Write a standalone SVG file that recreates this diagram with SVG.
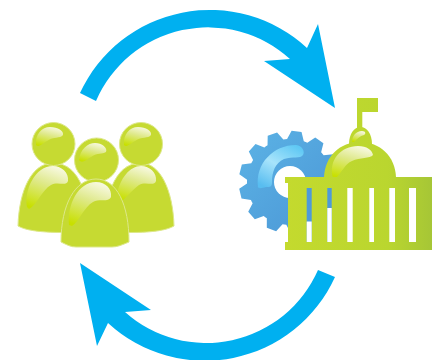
<svg xmlns="http://www.w3.org/2000/svg" width="438" height="360" viewBox="0 0 438 360">
<defs>
<linearGradient id="gloss" x1="0.6" y1="0" x2="0.25" y2="1"><stop offset="0" stop-color="#f6f8dc"/><stop offset="0.4" stop-color="#dfe98c"/><stop offset="1" stop-color="#c8e000"/></linearGradient>
<linearGradient id="gear" x1="0" y1="0" x2="1" y2="1"><stop offset="0" stop-color="#5cb4e6"/><stop offset="1" stop-color="#4a94d4"/></linearGradient>
<linearGradient id="gearGloss" x1="0.8" y1="0" x2="0.2" y2="1"><stop offset="0" stop-color="#5fc8f4"/><stop offset="0.5" stop-color="#a8e4fb"/><stop offset="1" stop-color="#58bdf0"/></linearGradient>
<linearGradient id="cap" x1="285" y1="0" x2="432" y2="0" gradientUnits="userSpaceOnUse"><stop offset="0" stop-color="#c4da2e"/><stop offset="0.7" stop-color="#bad62f"/><stop offset="1" stop-color="#a6c636"/></linearGradient>
<clipPath id="gearClip">
<circle cx="290" cy="182" r="43"/>
<polygon points="281.500,140 285,131 295,131 298.500,140" transform="rotate(7.4 290 182)"/>
<polygon points="281.500,140 285,131 295,131 298.500,140" transform="rotate(35.1 290 182)"/>
<polygon points="281.500,140 285,131 295,131 298.500,140" transform="rotate(62.8 290 182)"/>
<polygon points="281.500,140 285,131 295,131 298.500,140" transform="rotate(90.5 290 182)"/>
<polygon points="281.500,140 285,131 295,131 298.500,140" transform="rotate(118.2 290 182)"/>
<polygon points="281.500,140 285,131 295,131 298.500,140" transform="rotate(145.9 290 182)"/>
<polygon points="281.500,140 285,131 295,131 298.500,140" transform="rotate(173.6 290 182)"/>
<polygon points="281.500,140 285,131 295,131 298.500,140" transform="rotate(201.3 290 182)"/>
<polygon points="281.500,140 285,131 295,131 298.500,140" transform="rotate(229 290 182)"/>
<polygon points="281.500,140 285,131 295,131 298.500,140" transform="rotate(256.700 290 182)"/>
<polygon points="281.500,140 285,131 295,131 298.500,140" transform="rotate(284.4 290 182)"/>
<polygon points="281.500,140 285,131 295,131 298.500,140" transform="rotate(312.1 290 182)"/>
<polygon points="281.500,140 285,131 295,131 298.500,140" transform="rotate(339.8 290 182)"/>
</clipPath>
<style>
.arrow{fill:#00b0f0}
.person{fill:#c6da32;stroke:#dde88a;stroke-width:1}
.gloss{fill:url(#gloss)}
.slot{fill:#ffffff}
.cap{fill:url(#cap)}
</style>
</defs>
<rect width="438" height="360" fill="#ffffff"/>
<g id="connectors">
<path class="arrow" d="M80 93A143 143 0 0 1 307 48L318 24L335 108L264 61L290 59A122 122 0 0 0 96 101Z"/>
<path class="arrow" d="M335 277A143 143 0 0 1 108 323L97 346L80 263L151 310L125 312A122 122 0 0 0 318 270Z"/>
</g>
<g id="people">
<g id="person-left">
<path class="person" d="M18 226C19 190 32 163 53 163C67 163 76 172 82 186L82 232C60 233 30 233 18 226Z"/>
<circle class="person" cx="53.500" cy="144" r="21.500"/>
<path class="gloss" d="M36 145C35 134 42 127 50 127C58 127 64 131 63 135C60 139 54 136 47 141C42 144 38 148 36 145Z"/>
<path class="gloss" d="M27 207C24 190 35 166 53 166C62 166 69 173 68 181C66 187 58 181 51 185C42 190 36 206 29 209Z"/>
</g>
<g id="person-right">
<path class="person" d="M174 226C173 190 160 163 141 163C127 163 118 172 112 186L112 232C134 233 162 233 174 226Z"/>
<circle class="person" cx="141" cy="144" r="21.500"/>
<path class="gloss" d="M124 145C123 134 130 127 138 127C146 127 152 131 151 135C148 139 142 136 135 141C130 144 126 148 124 145Z"/>
<path class="gloss" d="M117 195C120 178 130 166 141 166C150 166 157 173 156 181C154 187 146 181 139 185C132 190 128 196 122 201Z"/>
</g>
<g id="person-middle">
<circle class="person" cx="96.500" cy="160" r="22"/>
<path class="person" d="M61 242C61 205 75 179 96 179C117 179 129 205 129 242C122 245 117 247 112 247L76 247C71 247 67 245 61 242Z"/>
<path class="gloss" d="M79 160C80 149 88 143 95 143C102 143 108 148 106 152C102 155 98 152 91 157C86 160 82 164 79 160Z"/>
<path class="gloss" d="M69 225C67 205 78 182 96 182C106 182 112 189 111 197C108 203 100 198 93 202C84 207 78 223 72 226Z"/>
</g>
</g>
<g id="government">
<g id="gear-icon">
<rect x="236" y="128" width="108" height="108" fill="url(#gear)" clip-path="url(#gearClip)"/>
<circle cx="290" cy="182" r="16" fill="#ffffff"/>
<path fill="url(#gearGloss)" d="M258 187C255 164 273 145 296 145C303 146 305 152 303 155C300 159 293 156 284 159C275 163 272 172 272 182C272 187 270 187 266 187C262 188 259 189 258 187Z"/>
</g>
<g id="capitol">
<rect x="357" y="98" width="21" height="14" class="cap"/>
<rect x="357" y="98" width="5.300" height="32" class="cap"/>
<path class="cap" d="M349 144C349 134 354 127 360.500 127C367 127 372 134 372 144Z"/>
<path class="cap" d="M324 177C325 156 340 142 360 142C380 142 395 156 396 177Z"/>
<path class="gloss" d="M352 142C352 136 356 131 362 131C366 131 366 134 364 135C360 136 357 139 354 142Z"/>
<path class="gloss" d="M333 178C328 160 341 146 358 146C367 146 372 150 373 155C370 159 360 157 352 161C345 164 342 172 336 178Z"/>
<rect x="285" y="177" width="147" height="6" class="cap"/>
<rect x="288" y="183" width="144" height="59" class="cap"/>
<rect x="285" y="242" width="147" height="8" class="cap"/>
<rect x="306.700" y="188" width="5" height="54" fill="#4f9ad8"/>
<rect x="306.700" y="221.500" width="5" height="20.500" class="slot"/>
<rect x="327.300" y="188" width="4.400" height="54" fill="#4f9ad8"/>
<rect x="327.300" y="208" width="4.400" height="34" class="slot"/>
<rect x="347.300" y="188" width="5.400" height="54" class="slot"/>
<rect x="369.300" y="188" width="4.700" height="54" class="slot"/>
<rect x="389.300" y="188" width="5.700" height="54" class="slot"/>
<rect x="409" y="188" width="7" height="54" class="slot"/>
</g>
</g>
</svg>
